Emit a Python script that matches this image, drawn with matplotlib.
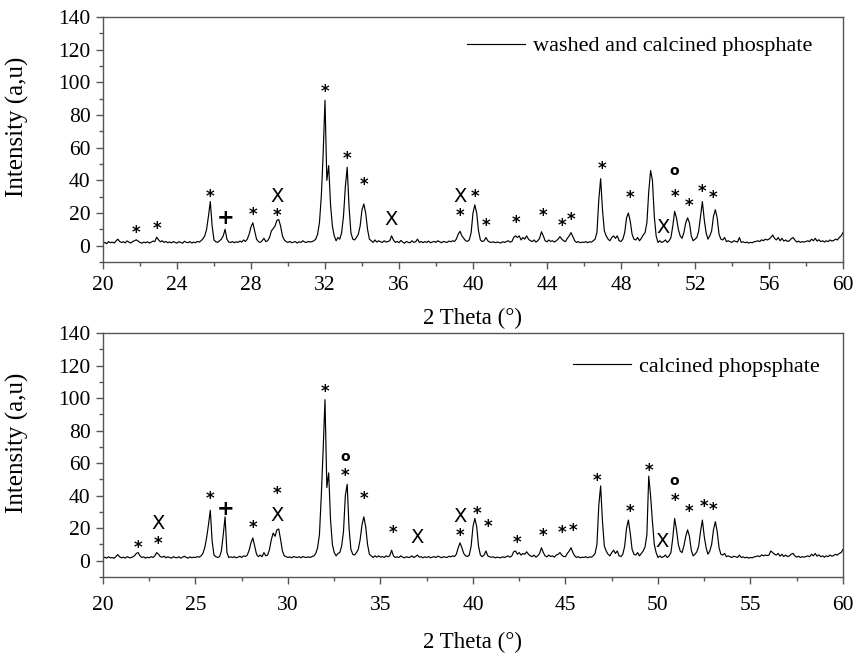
import matplotlib
matplotlib.use("Agg")
import matplotlib.pyplot as plt
import numpy as np
from matplotlib.ticker import MultipleLocator

plt.rcParams['font.family'] = ['Liberation Serif', 'DejaVu Serif']

# scan grid, 2 theta in degrees (0.1 step)
two_theta = np.round(np.arange(20.0, 60.05, 0.1), 1)

# washed and calcined phosphate
washed = [
    1.5, 2.0, 1.2, 2.5, 1.8, 2.2, 1.6, 2.8, 4.0, 2.6,
    1.9, 2.4, 1.7, 2.9, 2.2, 1.6, 2.5, 3.0, 3.6, 2.8,
    2.0, 1.5, 2.2, 1.8, 2.4, 1.6, 2.1, 2.8, 2.5, 5.2,
    3.6, 2.4, 3.0, 2.0, 2.6, 1.8, 2.3, 1.7, 2.5, 2.0,
    1.6, 2.4, 2.0, 1.5, 2.7, 2.1, 1.8, 2.5, 1.6, 2.2,
    1.8, 2.6, 2.2, 3.0, 4.2, 6.0, 10.0, 18.0, 27.0, 12.0,
    3.5, 2.4, 2.0, 3.0, 4.0, 6.0, 10.0, 4.0, 2.2, 2.0,
    2.5, 1.8, 2.4, 2.0, 2.8, 2.2, 3.5, 2.6, 4.0, 7.0,
    11.5, 14.0, 9.0, 4.0, 2.5, 2.0, 3.0, 4.5, 2.5, 3.0,
    5.0, 9.0, 10.5, 12.0, 15.5, 16.0, 12.0, 6.0, 3.5, 2.5,
    2.0, 2.6, 1.8, 2.2, 2.5, 1.6, 2.4, 2.0, 3.0, 2.2,
    2.0, 2.6, 2.2, 2.5, 3.0, 4.0, 7.0, 14.0, 30.0, 56.0,
    89.0, 40.0, 49.0, 25.0, 12.0, 6.0, 3.0, 5.0, 4.0, 8.0,
    18.0, 36.0, 48.0, 24.0, 8.0, 4.0, 3.5, 5.0, 7.0, 12.0,
    22.0, 25.5, 20.0, 10.0, 4.0, 3.0, 2.0, 3.5, 2.2, 3.0,
    2.4, 2.0, 3.0, 2.2, 2.5, 3.0, 6.0, 3.5, 2.0, 2.6,
    1.8, 3.2, 2.2, 1.5, 2.6, 2.0, 1.8, 3.0, 2.0, 2.4,
    4.0, 2.0, 2.6, 1.8, 2.5, 2.0, 2.8, 1.8, 2.2, 2.6,
    2.0, 3.0, 2.4, 1.8, 2.6, 2.2, 2.0, 2.8, 2.4, 3.0,
    2.6, 4.0, 7.0, 8.8, 6.0, 4.5, 3.0, 2.6, 3.5, 8.0,
    20.0, 25.0, 20.0, 9.0, 3.5, 2.5, 3.0, 5.0, 3.0, 2.2,
    2.0, 2.4, 1.8, 2.2, 2.0, 1.6, 2.4, 2.0, 2.5, 3.0,
    2.2, 2.5, 5.0, 6.0, 5.0, 6.0, 3.5, 5.0, 4.0, 6.0,
    4.0, 3.0, 2.5, 3.5, 2.2, 3.0, 4.5, 8.5, 6.0, 3.0,
    2.4, 3.5, 2.6, 3.0, 2.2, 3.0, 4.0, 5.5, 4.0, 3.0,
    2.5, 4.5, 6.0, 8.0, 5.5, 3.0, 2.0, 2.5, 1.8, 2.2,
    2.0, 2.5, 1.8, 2.4, 2.2, 3.0, 4.0, 8.0, 28.0, 41.0,
    22.0, 9.0, 6.0, 4.0, 3.0, 5.0, 6.0, 4.5, 6.0, 3.0,
    2.6, 4.0, 8.0, 17.0, 20.0, 15.0, 7.0, 4.0, 3.5, 5.0,
    3.0, 4.5, 6.5, 8.0, 14.0, 33.0, 46.0, 40.0, 18.0, 6.0,
    2.0, 3.0, 2.0, 2.5, 3.5, 2.0, 3.0, 5.0, 12.0, 21.0,
    17.0, 10.0, 6.0, 4.5, 8.0, 14.0, 17.0, 14.0, 6.0, 3.0,
    4.0, 5.0, 9.0, 18.0, 27.0, 16.0, 8.0, 4.0, 6.0, 9.0,
    18.0, 22.0, 17.0, 7.0, 4.0, 3.5, 5.0, 2.5, 3.0, 2.4,
    2.0, 3.0, 2.6, 2.2, 5.0, 2.0, 2.4, 1.8, 2.2, 1.6,
    2.0, 1.8, 2.4, 2.6, 3.0, 2.5, 3.6, 3.0, 4.0, 3.5,
    4.0, 5.0, 6.5, 4.5, 3.5, 5.0, 3.0, 4.5, 2.8, 3.5,
    2.6, 3.0, 4.2, 5.0, 3.5, 2.2, 2.8, 2.0, 2.5, 2.2,
    2.6, 3.0, 2.5, 4.0, 3.0, 4.5, 2.8, 3.6, 2.5, 3.0,
    2.2, 3.0, 2.5, 3.5, 2.8, 3.2, 4.0, 3.5, 5.0, 6.0,
    8.0,
]

# calcined phosphate
calcined = [
    1.5, 2.2, 1.6, 2.4, 1.8, 2.0, 1.5, 2.6, 3.8, 2.4,
    1.8, 2.2, 1.6, 2.5, 2.0, 1.8, 2.4, 3.0, 4.5, 5.0,
    3.0, 2.0, 2.4, 1.6, 2.2, 1.8, 2.5, 2.0, 3.0, 5.0,
    4.0, 2.5, 2.2, 2.8, 1.8, 2.4, 2.0, 1.6, 2.5, 2.0,
    1.8, 2.5, 1.6, 2.2, 2.8, 2.0, 1.6, 2.4, 1.8, 2.2,
    2.0, 2.5, 2.2, 3.0, 4.5, 8.0, 14.0, 22.0, 31.0, 12.0,
    3.5, 2.5, 2.0, 2.5, 6.0, 16.0, 27.0, 5.0, 2.0, 2.4,
    2.0, 2.5, 1.8, 2.2, 2.8, 2.0, 3.0, 2.6, 3.5, 6.5,
    11.0, 14.0, 9.0, 4.0, 2.5, 3.5, 2.5, 5.0, 3.0, 3.5,
    7.0, 13.0, 17.0, 15.0, 19.0, 19.5, 13.0, 6.0, 3.0, 2.5,
    2.0, 2.4, 1.8, 2.6, 2.2, 2.0, 2.5, 1.8, 2.6, 2.2,
    2.0, 2.4, 2.0, 2.6, 3.0, 4.5, 8.0, 16.0, 40.0, 68.0,
    99.0, 45.0, 54.0, 25.0, 10.0, 5.0, 3.0, 4.5, 5.0, 9.0,
    18.0, 40.0, 47.0, 20.0, 7.0, 4.0, 3.5, 5.0, 7.0, 13.0,
    22.0, 27.0, 21.0, 10.0, 4.0, 3.0, 2.0, 3.0, 2.2, 3.0,
    2.2, 2.6, 2.0, 3.0, 2.5, 3.0, 6.5, 3.0, 2.0, 2.4,
    2.0, 3.0, 2.2, 1.8, 2.5, 2.0, 2.2, 3.0, 2.0, 2.6,
    3.5, 2.2, 2.5, 1.8, 2.4, 2.0, 2.6, 1.8, 2.2, 2.5,
    2.0, 2.8, 2.4, 1.8, 2.5, 2.2, 2.0, 2.8, 2.4, 3.0,
    2.6, 4.0, 8.0, 11.0, 8.0, 4.5, 3.0, 2.6, 3.5, 9.0,
    21.0, 26.0, 21.0, 9.0, 3.5, 2.5, 3.5, 6.0, 3.0, 2.4,
    2.2, 2.4, 1.8, 2.2, 2.0, 1.8, 2.4, 2.0, 2.5, 3.0,
    2.2, 3.0, 5.5, 6.0, 4.0, 5.0, 3.5, 4.5, 4.0, 5.5,
    4.0, 3.0, 2.5, 3.5, 2.2, 3.0, 4.5, 8.0, 5.0, 3.0,
    2.4, 3.5, 2.6, 3.0, 2.2, 3.5, 4.0, 5.0, 3.5, 2.6,
    2.5, 4.5, 6.0, 8.0, 5.0, 3.0, 2.0, 2.5, 1.8, 2.2,
    2.0, 2.5, 1.8, 2.4, 2.2, 3.0, 4.5, 10.0, 34.0, 46.0,
    24.0, 9.0, 6.0, 4.0, 3.0, 5.0, 6.5, 4.5, 6.0, 3.0,
    2.6, 4.0, 9.0, 20.0, 25.0, 17.0, 7.0, 4.0, 3.5, 5.0,
    3.0, 4.5, 6.0, 8.5, 16.0, 52.0, 40.0, 24.0, 10.0, 5.0,
    2.0, 3.0, 2.0, 2.5, 3.5, 2.0, 3.0, 5.0, 14.0, 26.0,
    19.0, 10.0, 6.0, 5.0, 9.0, 15.0, 19.0, 15.0, 6.5, 3.0,
    4.0, 5.5, 9.0, 18.0, 25.0, 15.0, 8.0, 4.0, 6.0, 10.0,
    19.0, 24.0, 18.0, 8.0, 4.0, 3.5, 4.5, 2.5, 3.0, 2.4,
    2.0, 2.8, 2.4, 2.0, 3.5, 2.0, 2.4, 1.8, 2.2, 1.6,
    2.0, 1.8, 2.4, 2.6, 3.0, 2.5, 3.6, 3.0, 3.5, 3.2,
    3.5, 6.0, 5.0, 4.0, 3.5, 4.5, 2.8, 4.0, 2.6, 3.5,
    2.6, 3.0, 4.0, 4.5, 3.0, 2.2, 2.8, 2.0, 2.5, 2.2,
    2.6, 3.0, 2.5, 4.0, 3.0, 4.5, 2.8, 3.6, 2.5, 3.0,
    2.2, 3.0, 2.5, 3.5, 2.8, 3.2, 4.0, 3.5, 4.5, 5.0,
    7.0,
]

# phase markers: (symbol, 2theta, height)
marks_washed = [
    ('*', 21.8, 8), ('*', 22.9, 10), ('*', 25.8, 30), ('+', 26.6, 17),
    ('*', 28.1, 19), ('X', 29.4, 30), ('*', 29.4, 18), ('*', 32.0, 94),
    ('*', 33.2, 53), ('*', 34.1, 37), ('X', 35.6, 16), ('X', 39.3, 30),
    ('*', 39.3, 18), ('*', 40.1, 30), ('*', 40.7, 12), ('*', 42.3, 14),
    ('*', 43.8, 18), ('*', 44.8, 12), ('*', 45.3, 16), ('*', 47.0, 47),
    ('*', 48.5, 29), ('X', 50.3, 11), ('o', 50.9, 46), ('*', 50.9, 30),
    ('*', 51.7, 24), ('*', 52.4, 33), ('*', 53.0, 29),
]
marks_calcined = [
    ('*', 21.9, 8), ('X', 23.0, 23), ('*', 23.0, 10), ('*', 25.8, 38),
    ('+', 26.6, 32), ('*', 28.1, 20), ('*', 29.4, 41), ('X', 29.4, 28),
    ('*', 32.0, 104), ('o', 33.1, 64), ('*', 33.1, 52), ('*', 34.1, 38),
    ('*', 35.7, 17), ('X', 37.0, 14), ('X', 39.3, 27), ('*', 39.3, 15),
    ('*', 40.2, 29), ('*', 40.8, 21), ('*', 42.4, 11), ('*', 43.8, 15),
    ('*', 44.8, 17), ('*', 45.4, 18), ('*', 46.7, 49), ('*', 48.5, 30),
    ('*', 49.5, 55), ('X', 50.2, 12), ('o', 50.9, 49), ('*', 50.9, 37),
    ('*', 51.7, 30), ('*', 52.5, 33), ('*', 53.0, 31),
]

# font settings for each marker symbol: size, weight
sym_style = {'*': (12, 'bold'), 'o': (10, 'bold'), '+': (15, 'bold'), 'X': (14, 'normal')}

fig = plt.figure(figsize=(8.54, 6.56), dpi=100)
ax1 = fig.add_axes([0.1206, 0.6006, 0.8665, 0.3735])
ax2 = fig.add_axes([0.1206, 0.1204, 0.8665, 0.3720])

# axes, curve, markers, legend name, x step, legend anchor, tick pad, xlabel pad
panels = [
    (ax1, washed, marks_washed, 'washed and calcined phosphate', 4, (0.985, 1.005), 5, 9),
    (ax2, calcined, marks_calcined, 'calcined phopsphate', 5, (0.995, 0.985), 9, 12),
]

for ax, y, marks, name, step, anchor, tpad, lpad in panels:
    ax.plot(two_theta, y, color='black', lw=0.85, label=name)
    for sym, xm, ym in marks:
        size, weight = sym_style[sym]
        ax.text(xm, ym, sym, ha='center', va='center', fontsize=size,
                family='DejaVu Sans', fontweight=weight)
    ax.set_xlim(20, 60)
    ax.set_ylim(-10, 140)
    ax.xaxis.set_major_locator(MultipleLocator(step))
    ax.xaxis.set_minor_locator(MultipleLocator(step / 2))
    ax.set_yticks(range(0, 141, 20))
    ax.yaxis.set_minor_locator(MultipleLocator(10))
    ax.tick_params(which='major', direction='out', length=5, width=1.0,
                   labelsize=15.5, color='#555555', pad=4)
    ax.tick_params(axis='x', which='major', pad=tpad)
    ax.tick_params(which='minor', direction='out', length=3, width=1.0,
                   color='#555555')
    for sp in ax.spines.values():
        sp.set_color('#555555')
        sp.set_linewidth(1.0)
    ax.set_xlabel('2 Theta (°)', fontsize=16.5, labelpad=lpad)
    ax.set_ylabel('Intensity (a,u)', fontsize=18)
    ax.yaxis.set_label_coords(-0.1, 0.55)
    ax.legend(loc='upper right', bbox_to_anchor=anchor, frameon=False,
              fontsize=16, handlelength=2.6, handletextpad=0.35)

fig.savefig('out.png', dpi=100)
